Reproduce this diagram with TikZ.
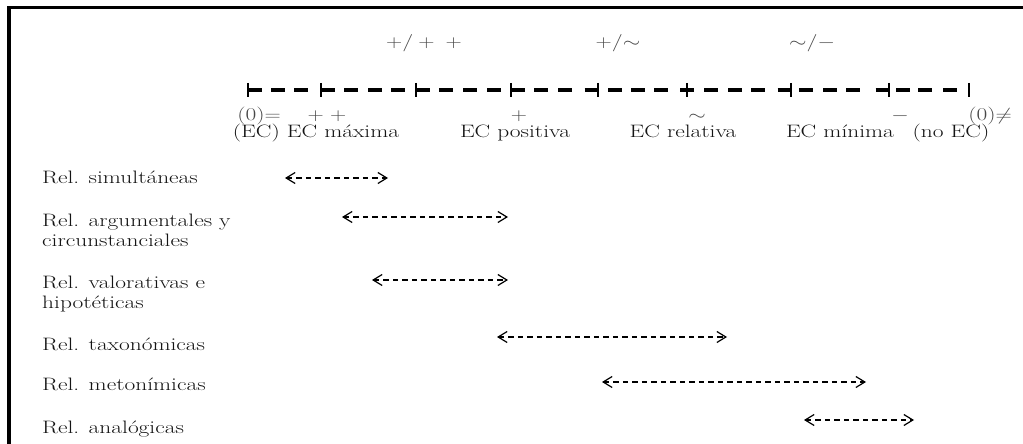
\documentclass[tikz,border=0pt]{standalone}
\usetikzlibrary{arrows.meta}
% widen the serif text horizontally
\newcommand\wtxt[1]{\scalebox{1.3}[1]{#1}}
\begin{document}
\begin{tikzpicture}[x=1pt,y=-1pt,
  lbl/.style={font=\fontsize{18}{22}\selectfont, text=black!92, inner sep=0pt, anchor=base},
  sym/.style={font=\fontsize{18}{22}\selectfont, text=black!72, inner sep=0pt, anchor=base},
  rowlbl/.style={lbl, anchor=base west},
  seg/.style={line width=3pt},
  bar/.style={line width=2.2pt},
  barb/.tip={Straight Barb[length=9pt,width=11pt,line width=1.2pt]},
  span/.style={dash pattern=on 5.5pt off 4pt, line width=1.1pt, barb-barb},
]
\useasboundingbox (0,0) rectangle (1023,444);
% frame
\draw[line width=3.5pt] (9,446) -- (9,7.5) -- (1025,7.5);

% scale: dashes and division bars
\foreach \x in {248,271,294,321,344,368,391,416,439,463,487,511,534,558,584.5,
                608,631,654,680,704,728,751,777.5,799,823,846,875.5,896,918,943}
  \draw[seg] (\x,90) -- ++(13.5,0);
\foreach \x in {248,321,416,511,598,687,791,889,969}
  \draw[bar] (\x,83) -- (\x,97);

% intermediate grades above the scale
\node[sym] (g1) at (424,48) {\wtxt{$+/+\;+$}};
\node[sym] (g2) at (618,48) {\wtxt{$+/{\sim}$}};
\node[sym] (g3) at (812,48) {\wtxt{${\sim}/-$}};

% grade symbols below the scale
\node[sym] (s0) at (259,120) {\wtxt{(0)$=$}};
\node[sym] (s1) at (327,120) {\wtxt{$+\;+$}};
\node[sym] (s2) at (519,120) {\wtxt{$+$}};
\node[sym] (s3) at (697,120) {\wtxt{$\sim$}};
\node[sym] (s4) at (900,120) {\wtxt{$-$}};
\node[sym] (s5) at (990,120) {\wtxt{(0)$\neq$}};

% grade names
\node[lbl] (n1) at (316,137) {\wtxt{(EC) EC máxima}};
\node[lbl] (n2) at (515,137) {\wtxt{EC positiva}};
\node[lbl] (n3) at (683,137) {\wtxt{EC relativa}};
\node[lbl] (n4) at (840,137) {\wtxt{EC mínima}};
\node[lbl] (n5) at (951,137) {\wtxt{(no EC)}};

% relation types
\node[rowlbl] (r1)  at (42,183) {\wtxt{Rel. simultáneas}};
\node[rowlbl] (r2)  at (42,226) {\wtxt{Rel. argumentales y}};
\node[rowlbl] (r2b) at (42,246) {\wtxt{circunstanciales}};
\node[rowlbl] (r3)  at (42,288) {\wtxt{Rel. valorativas e}};
\node[rowlbl] (r3b) at (42,308) {\wtxt{hipotéticas}};
\node[rowlbl] (r4)  at (42,350) {\wtxt{Rel. taxonómicas}};
\node[rowlbl] (r5)  at (42,390) {\wtxt{Rel. metonímicas}};
\node[rowlbl] (r6)  at (42,433) {\wtxt{Rel. analógicas}};

% ranges on the scale
\coordinate (a1) at (285,178);  \coordinate (b1) at (388,178);
\coordinate (a2) at (342,217);  \coordinate (b2) at (508,217);
\coordinate (a3) at (372,280);  \coordinate (b3) at (508,280);
\coordinate (a4) at (497,337);  \coordinate (b4) at (727,337);
\coordinate (a5) at (602,382);  \coordinate (b5) at (866,382);
\coordinate (a6) at (804,420);  \coordinate (b6) at (914,420);
\foreach \i in {1,...,6}
  \draw[span] (a\i) -- (b\i);
\end{tikzpicture}
\end{document}
